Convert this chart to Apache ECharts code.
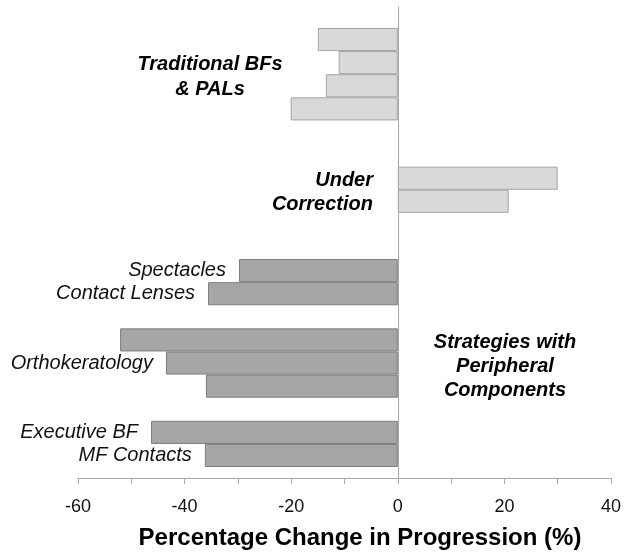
<!DOCTYPE html>
<html>
<head>
<meta charset="utf-8">
<script src="https://cdn.jsdelivr.net/npm/echarts@6/dist/echarts.min.js"></script>
<style>
html,body{margin:0;padding:0;background:#fff;}
#c{width:629px;height:558px;}
</style>
</head>
<body>
<div id="c"></div>
<script>
// Rows from top to bottom (empty rows are gaps between groups)
const categories = ['trad1','trad2','trad3','trad4','gap1','gap2','uc1','uc2','gap3','gap4',
  'spectacles','contact','gap5','ortho1','ortho2','ortho3','gap6','exec','mf'];
const values = [-15, -11.1, -13.5, -20.1, null, null, 30, 20.8, null, null,
  -29.8, -35.6, null, -52.1, -43.5, -36.0, null, -46.3, -36.2];
const groups = ['light','light','light','light','','','light','light','','',
  'dark','dark','','dark','dark','dark','','dark','dark'];
const itemLabels = ['','','','','','','','','','',
  'Spectacles','Contact Lenses','','','Orthokeratology','','','Executive BF','MF Contacts'];
const xTicks = [-60, -40, -20, 0, 20, 40];
const xName = 'Percentage Change in Progression (%)';
const groupTitles = ['Traditional BFs\n& PALs', 'Under\nCorrection', 'Strategies with\nPeripheral\nComponents'];

const FONT = '"Liberation Sans", Arial, sans-serif';
const styles = {
  light: {color: '#d9d9d9', borderColor: '#a3a3a3', borderWidth: 1},
  dark:  {color: '#a6a6a6', borderColor: '#7d7d7d', borderWidth: 1}
};

const chart = echarts.init(document.getElementById('c'), null, {renderer: 'canvas'});
chart.setOption({
  animation: false,
  backgroundColor: '#fff',
  grid: [
    {left: 78, right: 18, top: 28, height: 439},
    {left: 78, right: 18, top: 7, height: 471}
  ],
  xAxis: [
    {gridIndex: 0, type: 'value', min: -60, max: 40, show: false},
    {gridIndex: 1, type: 'value', min: -60, max: 40, interval: 10,
      axisLine: {show: true, onZero: false, lineStyle: {color: '#a8a8a8', width: 1}},
      axisTick: {show: true, length: 6, lineStyle: {color: '#a8a8a8'}},
      splitLine: {show: false},
      axisLabel: {
        fontSize: 18, color: '#111', fontFamily: FONT, margin: 20,
        formatter: v => xTicks.indexOf(v) >= 0 ? String(v) : ''
      }
    }
  ],
  yAxis: [
    {gridIndex: 0, type: 'category', inverse: true, data: categories, show: false},
    {gridIndex: 1, type: 'value', min: 0, max: 1,
      axisLine: {show: true, onZero: true, lineStyle: {color: '#a8a8a8', width: 1}},
      axisTick: {show: false}, axisLabel: {show: false}, splitLine: {show: false}}
  ],
  series: [{
    type: 'bar',
    xAxisIndex: 0, yAxisIndex: 0,
    barCategoryGap: 0,
    data: values.map((v, i) => ({value: v, itemStyle: styles[groups[i]] || {}})),
    label: {
      show: true, position: 'left', distance: 13,
      fontSize: 20, fontStyle: 'italic', color: '#111', fontFamily: FONT,
      formatter: p => itemLabels[p.dataIndex]
    }
  }],
  graphic: [
    {type: 'text', style: {
      x: 210, y: 77, text: groupTitles[0], align: 'center', verticalAlign: 'middle',
      font: 'italic bold 20px ' + FONT, lineHeight: 25, fill: '#000'}},
    {type: 'text', style: {
      x: 373, y: 192, text: groupTitles[1], align: 'right', verticalAlign: 'middle',
      font: 'italic bold 20px ' + FONT, lineHeight: 24, fill: '#000'}},
    {type: 'text', style: {
      x: 505, y: 366, text: groupTitles[2], align: 'center', verticalAlign: 'middle',
      font: 'italic bold 20px ' + FONT, lineHeight: 24, fill: '#000'}},
    {type: 'text', style: {
      x: 360, y: 538, text: xName, align: 'center', verticalAlign: 'middle',
      font: 'bold 24px ' + FONT, fill: '#000'}}
  ]
});
</script>
</body>
</html>
